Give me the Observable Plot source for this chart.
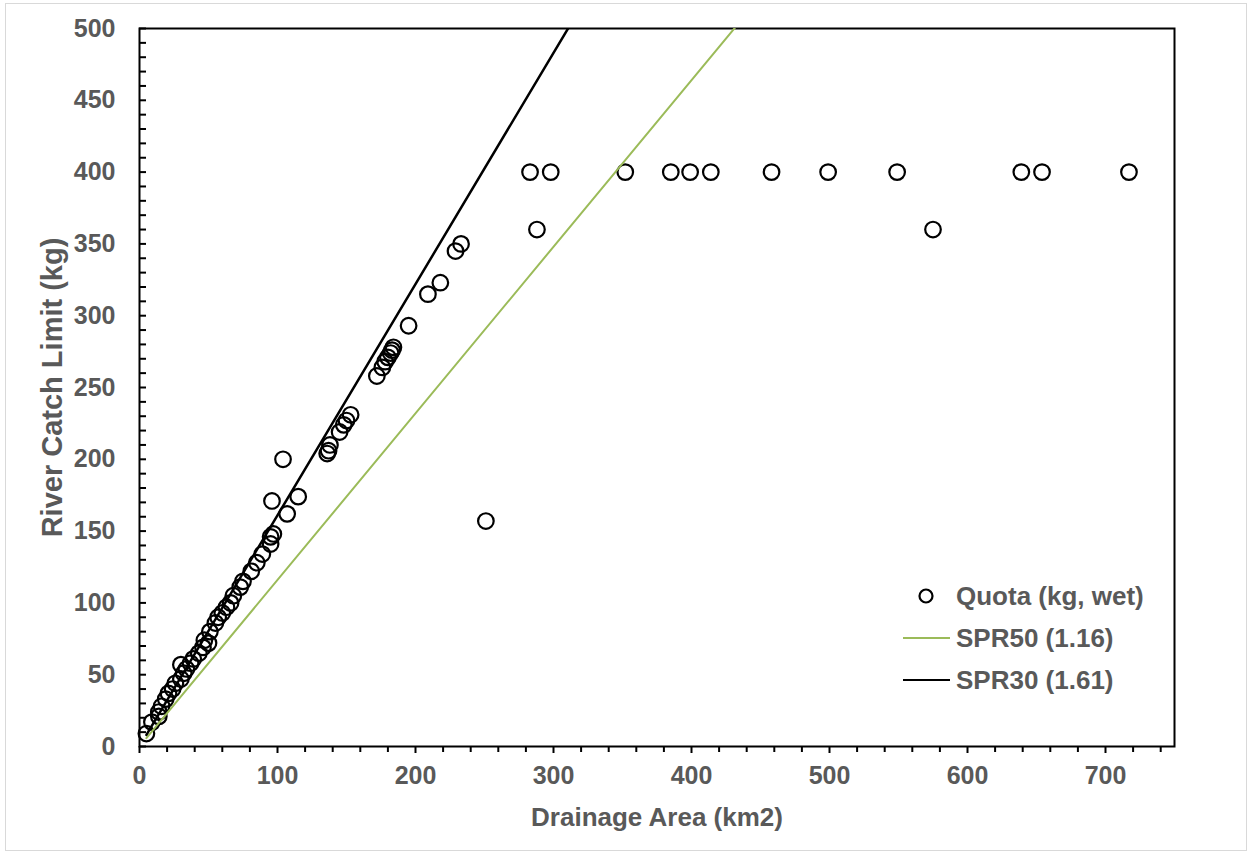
<!DOCTYPE html>
<html><head><meta charset="utf-8">
<script src="https://cdn.jsdelivr.net/npm/d3@7"></script>
<script src="https://cdn.jsdelivr.net/npm/@observablehq/plot@0.6"></script>
<style>
body{margin:0;background:#fff;font-family:"Liberation Sans",Arial,sans-serif;}
#wrap{position:relative;width:1251px;height:855px;overflow:hidden;}
#border{position:absolute;left:5px;top:3px;width:1242px;height:848px;border:1px solid #d9d9d9;box-sizing:border-box;}
#chart{position:absolute;left:0;top:0;}
#legend{position:absolute;left:0;top:0;}
</style></head><body>
<div id="wrap"><div id="border"></div><div id="chart"></div><svg id="legend" width="1251" height="855"></svg></div>
<script>
// Quota points: drainage area (km2) and river catch limit (kg)
const drainageArea = [5, 9, 14, 14, 16, 19, 21, 24, 26, 30, 30, 32, 34, 37, 39, 43, 46, 47, 50, 51, 55, 57, 60, 63, 66, 68, 73, 75, 81, 85, 89, 95, 95, 97, 107, 96, 104, 115, 136, 137, 138, 145, 148, 150, 153, 172, 176, 178, 180, 182, 183, 184, 195, 209, 218, 229, 233, 251, 283, 288, 298, 352, 385, 399, 414, 458, 499, 549, 575, 639, 654, 717];
const catchLimit   = [9, 17, 21, 24, 28, 33, 37, 40, 44, 57, 47, 51, 54, 58, 61, 65, 69, 74, 72, 80, 86, 90, 93, 97, 100, 105, 111, 115, 122, 128, 134, 141, 146, 148, 162, 171, 200, 174, 204, 206, 210, 219, 224, 227, 231, 258, 264, 268, 271, 274, 276, 278, 293, 315, 323, 345, 350, 157, 400, 360, 400, 400, 400, 400, 400, 400, 400, 400, 360, 400, 400, 400];
const seriesNames = ["Quota (kg, wet)", "SPR50 (1.16)", "SPR30 (1.61)"];
const sprSlopes = [1.16, 1.61];
const lineAreaRange = [5, 750];
const xMajorTicks = [0, 100, 200, 300, 400, 500, 600, 700];
const xMinorTicks = [20, 40, 60, 80, 120, 140, 160, 180, 220, 240, 260, 280, 320, 340, 360, 380, 420, 440, 460, 480, 520, 540, 560, 580, 620, 640, 660, 680, 720, 740];
const yMajorTicks = [0, 50, 100, 150, 200, 250, 300, 350, 400, 450, 500];
const yMinorTicks = [10, 20, 30, 40, 60, 70, 80, 90, 110, 120, 130, 140, 160, 170, 180, 190, 210, 220, 230, 240, 260, 270, 280, 290, 310, 320, 330, 340, 360, 370, 380, 390, 410, 420, 430, 440, 460, 470, 480, 490];
const xLabel = "Drainage Area (km2)";
const yLabel = "River Catch Limit (kg)";
const lineColors = ["#9bbb59", "#000000"];

const points = drainageArea.map((a, i) => ({area: a, limit: catchLimit[i]}));
const lineData = sprSlopes.map((s, j) => lineAreaRange.map(a => ({area: a, limit: s * a, series: seriesNames[j + 1]})));

const textColor = "#595959";
const chart = Plot.plot({
  width: 1251, height: 855,
  marginLeft: 139, marginRight: 77, marginTop: 28, marginBottom: 109,
  style: {fontFamily: "'Liberation Sans', Arial, sans-serif", background: "transparent", overflow: "visible"},
  x: {domain: [0, 750]},
  y: {domain: [0, 500]},
  marks: [
    Plot.axisX({ticks: xMinorTicks, tickSize: 6, strokeWidth: 2, fill: "none", label: null}),
    Plot.axisX({ticks: xMajorTicks, tickSize: 7, strokeWidth: 2, tickPadding: 13, tickFormat: d => String(d),
      fontSize: 25, fontWeight: "bold", fill: textColor, label: null}),
    Plot.axisX({ticks: [], tickSize: 0, fontSize: 26, fontWeight: "bold", fill: textColor,
      label: xLabel, labelAnchor: "center", labelArrow: "none", labelOffset: 79}),
    Plot.axisY({ticks: yMinorTicks.concat(yMajorTicks), tickSize: -7, strokeWidth: 2, fill: "none", label: null}),
    Plot.axisY({ticks: yMajorTicks, tickSize: 0, tickPadding: 24, tickFormat: d => String(d),
      fontSize: 25, fontWeight: "bold", fill: textColor, label: null}),
    Plot.axisY({ticks: [], tickSize: 0, fontSize: 29, fontWeight: "bold", fill: textColor,
      label: yLabel, labelAnchor: "center", labelArrow: "none", labelOffset: 98}),
    Plot.frame({stroke: "black", strokeWidth: 2}),
    Plot.dot(points, {x: "area", y: "limit", r: 7.8, stroke: "black", strokeWidth: 2.2, fill: "none"}),
    Plot.line(lineData[0], {x: "area", y: "limit", stroke: lineColors[0], strokeWidth: 2, clip: true}),
    Plot.line(lineData[1], {x: "area", y: "limit", stroke: lineColors[1], strokeWidth: 2.5, clip: true})
  ]
});
document.getElementById("chart").appendChild(chart);

// legend
const lg = d3.select("#legend");
const items = [
  {name: seriesNames[0], type: "dot", y: 596},
  {name: seriesNames[1], type: "line", color: lineColors[0], y: 638},
  {name: seriesNames[2], type: "line", color: lineColors[1], y: 680}
];
for (const it of items) {
  if (it.type === "dot") {
    lg.append("circle").attr("cx", 926).attr("cy", it.y).attr("r", 6.5)
      .attr("fill", "none").attr("stroke", "black").attr("stroke-width", 2.2);
  } else {
    lg.append("line").attr("x1", 903).attr("x2", 950).attr("y1", it.y).attr("y2", it.y)
      .attr("stroke", it.color).attr("stroke-width", 2);
  }
  lg.append("text").attr("x", 956).attr("y", it.y).attr("dy", "0.35em")
    .attr("font-family", "'Liberation Sans', Arial, sans-serif").attr("font-size", 26)
    .attr("font-weight", "bold").attr("fill", textColor).text(it.name);
}
</script>
</body></html>
